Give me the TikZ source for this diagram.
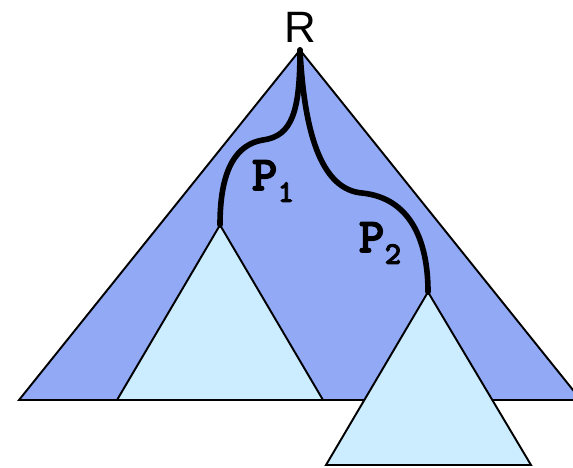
\documentclass[tikz,border=0pt]{standalone}
\usepackage{fontspec}
\setmainfont{Liberation Sans}
\newfontfamily\pathfont{lmmonolt10-bold}[Extension=.otf, FakeBold=2.5]
\usetikzlibrary{positioning}

\definecolor{treeblue}{RGB}{146,170,245}
\definecolor{subblue}{RGB}{204,236,255}

\begin{document}
\begin{tikzpicture}[
    x=0.02cm, y=-0.02cm,
    bigtree/.style={draw, line width=1.1pt, fill=treeblue, line join=miter},
    subtree/.style={draw, line width=1.1pt, fill=subblue, line join=miter},
    pathline/.style={draw, line width=3.2pt, line cap=round},
    rootlbl/.style={font=\fontsize{25}{25}\selectfont, inner sep=0pt},
    plbl/.style={font=\pathfont\fontsize{28}{28}\selectfont, inner sep=0pt},
]
\useasboundingbox (0,0) rectangle (573,467);
\clip (0,0) rectangle (573,467);

% ================================================================
%  WHOLE TREE
% ================================================================
\coordinate (root) at (300,50);
\path[bigtree] (root) -- (19,400) -- (581,400) -- cycle;
\node[rootlbl, anchor=south] (R) at (300,43) {R};

% ================================================================
%  SUBTREES
% ================================================================
\coordinate (top1) at (220,225);
\coordinate (top2) at (428,292);
\path[subtree] (top1) -- (117,400) -- (323,400) -- cycle;
\path[subtree] (top2) -- (326,465) -- (531,465) -- cycle;

% ================================================================
%  PATHS FROM THE ROOT
% ================================================================
\draw[pathline] (root) .. controls (300,112) and (292,136) .. (263,140)
    .. controls (226,146) and (220,190) .. (top1);
\draw[pathline] (root) .. controls (305,150) and (328,190) .. (362,193)
    .. controls (410,198) and (428,240) .. (top2);

\node[plbl] (p1) at (273,181) {P\raisebox{-0.55ex}{\fontsize{18}{18}\selectfont 1}};
\node[plbl] (p2) at (380,243) {P\raisebox{-0.55ex}{\fontsize{18}{18}\selectfont 2}};

\end{tikzpicture}
\end{document}
